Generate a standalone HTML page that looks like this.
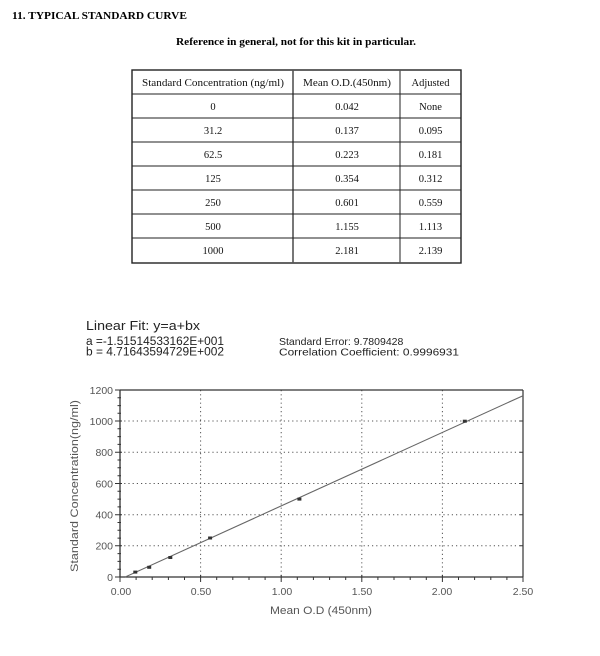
<!DOCTYPE html>
<html><head><meta charset="utf-8"><style>
html,body{margin:0;padding:0;background:#fff;width:600px;height:656px;overflow:hidden}
svg{display:block}
.s{font-family:"Liberation Serif",serif}
.a{font-family:"Liberation Sans",sans-serif}
</style></head><body>
<svg width="600" height="656" viewBox="0 0 600 656" xmlns="http://www.w3.org/2000/svg">
<rect width="600" height="656" fill="#fff"/>
<!-- Titles -->
<text class="s" x="12" y="19" font-size="11" font-weight="bold" textLength="175" lengthAdjust="spacingAndGlyphs">11. TYPICAL STANDARD CURVE</text>
<text class="s" x="176" y="45" font-size="11" font-weight="bold" textLength="240" lengthAdjust="spacingAndGlyphs">Reference in general, not for this kit in particular.</text>

<!-- Table -->
<g stroke="#222" fill="none">
<rect x="132" y="70" width="329" height="193" stroke-width="1.4"/>
<line x1="293" y1="70" x2="293" y2="263" stroke="#555" stroke-width="1.6"/>
<line x1="400" y1="70" x2="400" y2="263" stroke="#555" stroke-width="1.3"/>
<line x1="132" y1="94" x2="461" y2="94" stroke-width="1"/>
<line x1="132" y1="118" x2="461" y2="118" stroke-width="1"/>
<line x1="132" y1="142" x2="461" y2="142" stroke-width="1"/>
<line x1="132" y1="166" x2="461" y2="166" stroke-width="1"/>
<line x1="132" y1="190" x2="461" y2="190" stroke-width="1"/>
<line x1="132" y1="214" x2="461" y2="214" stroke-width="1"/>
<line x1="132" y1="238" x2="461" y2="238" stroke-width="1"/>
</g>
<g class="s" font-size="10.5" fill="#111" text-anchor="middle">
<text x="213" y="86" textLength="142" lengthAdjust="spacingAndGlyphs">Standard Concentration (ng/ml)</text>
<text x="347" y="86" textLength="88" lengthAdjust="spacingAndGlyphs">Mean O.D.(450nm)</text>
<text x="430.5" y="86">Adjusted</text>
<text x="213" y="110">0</text><text x="347" y="110">0.042</text><text x="430.5" y="110">None</text>
<text x="213" y="134">31.2</text><text x="347" y="134">0.137</text><text x="430.5" y="134">0.095</text>
<text x="213" y="158">62.5</text><text x="347" y="158">0.223</text><text x="430.5" y="158">0.181</text>
<text x="213" y="182">125</text><text x="347" y="182">0.354</text><text x="430.5" y="182">0.312</text>
<text x="213" y="206">250</text><text x="347" y="206">0.601</text><text x="430.5" y="206">0.559</text>
<text x="213" y="230">500</text><text x="347" y="230">1.155</text><text x="430.5" y="230">1.113</text>
<text x="213" y="254">1000</text><text x="347" y="254">2.181</text><text x="430.5" y="254">2.139</text>
</g>

<!-- Chart header -->
<g class="a" fill="#222">
<text x="86" y="330" font-size="13" textLength="114" lengthAdjust="spacingAndGlyphs">Linear Fit: y=a+bx</text>
<text x="86" y="345" font-size="11.5" textLength="138" lengthAdjust="spacingAndGlyphs">a =-1.51514533162E+001</text>
<text x="86" y="355.5" font-size="11.5" textLength="138" lengthAdjust="spacingAndGlyphs">b = 4.71643594729E+002</text>
<text x="279" y="345" font-size="10.5">Standard Error: 9.7809428</text>
<text x="279" y="355.5" font-size="10.5" textLength="180" lengthAdjust="spacingAndGlyphs">Correlation Coefficient: 0.9996931</text>
</g>

<!-- Grid -->
<g stroke="#555" stroke-width="1" stroke-dasharray="1.2 3" fill="none">
<line x1="120" y1="421" x2="523" y2="421"/>
<line x1="120" y1="452.2" x2="523" y2="452.2"/>
<line x1="120" y1="483.5" x2="523" y2="483.5"/>
<line x1="120" y1="514.7" x2="523" y2="514.7"/>
<line x1="120" y1="545.8" x2="523" y2="545.8"/>
<line x1="200.6" y1="390" x2="200.6" y2="577"/>
<line x1="281.2" y1="390" x2="281.2" y2="577"/>
<line x1="361.8" y1="390" x2="361.8" y2="577"/>
<line x1="442.4" y1="390" x2="442.4" y2="577"/>
</g>

<!-- Frame -->
<g stroke="#333" fill="none">
<line x1="120" y1="390" x2="523" y2="390" stroke-width="1.3"/>
<line x1="523" y1="390" x2="523" y2="577" stroke-width="1.2"/>
<line x1="120" y1="389.5" x2="120" y2="577.5" stroke-width="1.3"/>
<line x1="119.5" y1="577" x2="523.5" y2="577" stroke-width="1.3"/>
</g>

<!-- Y ticks -->
<g stroke="#333" stroke-width="1">
<path d="M115 390H122M115 421H122M115 452.2H122M115 483.5H122M115 514.7H122M115 545.8H122M115 577H122"/>
<path d="M117.5 397.8H121M117.5 405.6H121M117.5 413.2H121
M117.5 428.8H121M117.5 436.6H121M117.5 444.4H121
M117.5 460H121M117.5 467.8H121M117.5 475.7H121
M117.5 491.3H121M117.5 499.1H121M117.5 506.9H121
M117.5 522.5H121M117.5 530.3H121M117.5 538.1H121
M117.5 553.6H121M117.5 561.4H121M117.5 569.2H121"/>
<path d="M520 421H523M520 452.2H523M520 483.5H523M520 514.7H523M520 545.8H523"/>
</g>
<!-- X ticks -->
<g stroke="#333" stroke-width="1">
<path d="M120 575V582M200.6 575V582M281.2 575V582M361.8 575V582M442.4 575V582M523 575V582"/>
<path d="M136.1 577V580M152.2 577V580M168.4 577V580M184.5 577V580
M216.7 577V580M232.8 577V580M249 577V580M265.1 577V580
M297.3 577V580M313.4 577V580M329.6 577V580M345.7 577V580
M377.9 577V580M394 577V580M410.2 577V580M426.3 577V580
M458.5 577V580M474.6 577V580M490.8 577V580M506.9 577V580"/>
</g>

<!-- Tick labels -->
<g class="a" font-size="10.5" fill="#555" text-anchor="end">
<text x="113" y="394">1200</text>
<text x="113" y="425">1000</text>
<text x="113" y="456">800</text>
<text x="113" y="487.5">600</text>
<text x="113" y="518.5">400</text>
<text x="113" y="549.5">200</text>
<text x="113" y="581">0</text>
</g>
<g class="a" font-size="10.5" fill="#555" text-anchor="middle">
<text x="121" y="595">0.00</text>
<text x="201" y="595">0.50</text>
<text x="282" y="595">1.00</text>
<text x="362" y="595">1.50</text>
<text x="442" y="595">2.00</text>
<text x="523" y="595">2.50</text>
</g>
<text class="a" x="321" y="614" font-size="11" fill="#555" text-anchor="middle" textLength="102" lengthAdjust="spacingAndGlyphs">Mean O.D (450nm)</text>
<text class="a" transform="translate(78,486) rotate(-90)" font-size="11" fill="#555" text-anchor="middle" textLength="172" lengthAdjust="spacingAndGlyphs">Standard Concentration(ng/ml)</text>

<!-- Fit line -->
<line x1="125.2" y1="577" x2="523" y2="395.7" stroke="#666" stroke-width="1.1"/>
<!-- Points -->
<g fill="#333">
<rect x="133.3" y="570.6" width="4" height="3"/>
<rect x="147.2" y="565.8" width="4" height="3"/>
<rect x="168.3" y="556" width="4" height="3"/>
<rect x="208.1" y="536.5" width="4" height="3"/>
<rect x="297.4" y="497.6" width="4" height="3"/>
<rect x="462.8" y="419.7" width="4" height="3"/>
</g>
</svg>
</body></html>
